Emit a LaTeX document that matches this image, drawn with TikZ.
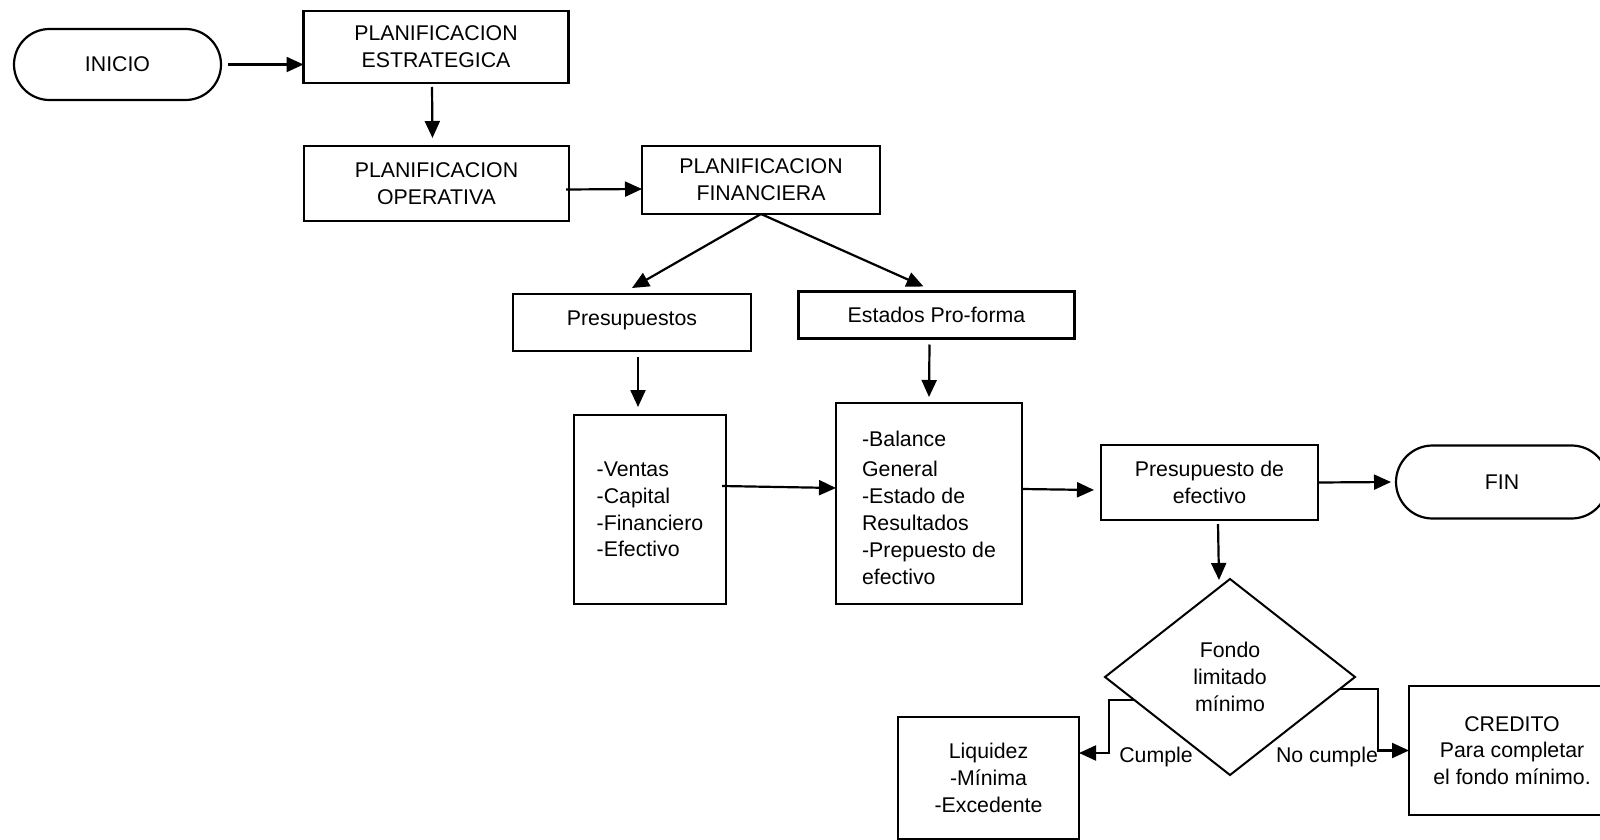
\documentclass[tikz,border=0pt]{standalone}
\usepackage{fontspec}
\setmainfont{Liberation Sans}
\usetikzlibrary{arrows.meta,shapes.geometric,shapes.misc,calc}
\begin{document}
\begin{tikzpicture}[x=1pt,y=-1pt,
  every node/.style={font=\fontsize{21.3}{26.8}\selectfont, outer sep=0pt, inner sep=0pt},
  box/.style={draw, line width=2.2pt, rectangle, align=center},
  terminal/.style={draw, line width=2.2pt, rounded rectangle, rounded rectangle arc length=180},
  decision/.style={draw, line width=2pt, diamond, align=center},
  arr/.style={line width=2.2pt, -{Triangle[length=17pt,width=15pt]}}
]
\useasboundingbox (0,0) rectangle (1600,840);

% planning chain
\node[terminal, minimum width=207pt, minimum height=71pt] (inicio) at (117.5,64.5) {INICIO};
\node[box, minimum width=265pt, minimum height=72pt] (pe) at (436,47) {PLANIFICACION\\ESTRATEGICA};
\node[box, minimum width=265pt, minimum height=75pt] (po) at (436.5,183.5) {PLANIFICACION\\OPERATIVA};
\node[box, minimum width=238pt, minimum height=68pt] (pf) at (761,180) {PLANIFICACION\\FINANCIERA};

% financial planning outputs
\node[box, minimum width=238pt, minimum height=57pt] (pres) at (632,322.5) {Presupuestos\rule[-8.5pt]{0pt}{8.5pt}};
\node[box, minimum width=276pt, minimum height=47pt] (est) at (936.5,315) {Estados Pro-forma};
\node[box, align=left, minimum width=152pt, minimum height=189pt] (ventas) at (650,509.5)
  {-Ventas\\-Capital\\-Financiero\\-Efectivo};
\node[box, align=left, minimum width=186pt, minimum height=201pt] (balance) at (929,503.5)
  {\rule{0pt}{23.5pt}-Balance\\[4pt]General\\-Estado de\\Resultados\\-Prepuesto de\\efectivo};
\node[box, minimum width=217pt, minimum height=75pt] (pde) at (1209.5,482.5) {Presupuesto de\\efectivo};
\node[terminal, minimum width=212pt, minimum height=73pt] (fin) at (1502,482) {FIN};

% decision on the minimum fund
\node[decision, minimum width=250pt, minimum height=196pt] (dia) at (1230,677) {Fondo\\limitado\\mínimo};
\node[box, minimum width=181pt, minimum height=122pt] (liq) at (988.5,778) {Liquidez\\-Mínima\\-Excedente};
\node[box, minimum width=206pt, minimum height=129pt] (credito) at (1512,750.5)
  {CREDITO\\Para completar\\el fondo mínimo.};
\node (cumple) at (1156,757) {Cumple};
\node (nocumple) at (1327,757) {No cumple};

% connectors
\draw[arr] ([xshift=7pt]inicio.east) -- (inicio.east -| pe.west);
\draw[arr] ([xshift=-4pt,yshift=-4pt]pe.south) -- ([xshift=-4pt,yshift=8pt]po.north);
\draw[arr] ([xshift=-3pt,yshift=-6pt]po.east) -- ([yshift=-9pt]pf.west);
\draw[arr] (pf.south) -- ([yshift=6pt]pres.north);
\draw[arr] (pf.south) -- ([xshift=-13pt,yshift=5pt]est.north);
\draw[arr] ([xshift=6pt,yshift=-6pt]pres.south) -- ([xshift=-12pt,yshift=8pt]ventas.north);
\draw[arr] ([xshift=-7pt,yshift=-6pt]est.south) -- ([yshift=6pt]balance.north);
\draw[arr] ([xshift=-4pt,yshift=23.5pt]ventas.east) -- ([yshift=15.5pt]balance.west);
\draw[arr] ([yshift=14.5pt]balance.east) -- ([xshift=-7pt,yshift=-7.5pt]pde.west);
\draw[arr] (pde.east) -- ([xshift=-5pt]fin.west);
\draw[arr] ([xshift=8.5pt,yshift=-4pt]pde.south) -- ([xshift=-11pt,yshift=-1pt]dia.north);

\coordinate (cs) at ($(dia.west)!0.235!(dia.south)$);
\coordinate (ns) at ($(dia.east)!0.122!(dia.south)$);
\draw[arr] (cs) -- ++(-25,0) |- ([yshift=25pt]liq.east);
\draw[arr] (ns) -- ++(38,0) |- (credito.west);
\end{tikzpicture}
\end{document}
